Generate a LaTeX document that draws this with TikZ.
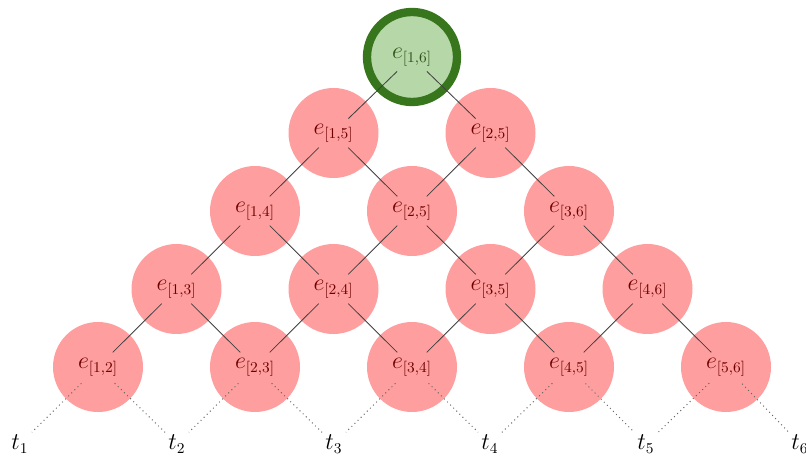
\documentclass[tikz,border=0pt]{standalone}
\definecolor{pinkfill}{HTML}{FF9E9E}
\definecolor{pinktext}{HTML}{6E0000}
\definecolor{greenfill}{HTML}{B6D7A8}
\definecolor{greenring}{HTML}{38761D}
\definecolor{greentext}{HTML}{2E5418}
\begin{document}
\begin{tikzpicture}[x=0.6pt,y=-0.6pt,
  redcirc/.style={circle,fill=pinkfill,draw=none,minimum size=54pt,inner sep=0pt,text=pinktext,font=\fontsize{13.5}{15}\selectfont},
  greencirc/.style={circle,fill=greenfill,draw=greenring,line width=5pt,minimum size=54pt,inner sep=0pt,text=greentext,font=\fontsize{13.5}{15}\selectfont},
  tlab/.style={inner sep=1pt,font=\fontsize{13.5}{15}\selectfont},
  edge/.style={draw=black!75,line width=0.5pt,shorten <=12.5pt,shorten >=12.5pt},
  dots/.style={draw=black!60,line width=0.6pt,dotted,shorten <=14pt,shorten >=10pt}]
\useasboundingbox (0,0) rectangle (806,459);
% level 1
\node[redcirc] (e12) at (98,367) {$e_{[1,2]}$};
\node[redcirc] (e23) at (255,367) {$e_{[2,3]}$};
\node[redcirc] (e34) at (412,367) {$e_{[3,4]}$};
\node[redcirc] (e45) at (569,367) {$e_{[4,5]}$};
\node[redcirc] (e56) at (726,367) {$e_{[5,6]}$};
% level 2
\node[redcirc] (e13) at (176.5,289) {$e_{[1,3]}$};
\node[redcirc] (e24) at (333.5,289) {$e_{[2,4]}$};
\node[redcirc] (e35) at (490.5,289) {$e_{[3,5]}$};
\node[redcirc] (e46) at (647.5,289) {$e_{[4,6]}$};
% level 3
\node[redcirc] (e14) at (255,211) {$e_{[1,4]}$};
\node[redcirc] (e25b) at (412,211) {$e_{[2,5]}$};
\node[redcirc] (e36) at (569,211) {$e_{[3,6]}$};
% level 4
\node[redcirc] (e15) at (333.5,133) {$e_{[1,5]}$};
\node[redcirc] (e25) at (490.5,133) {$e_{[2,5]}$};
% top
\node[greencirc] (e16) at (412,57) {$e_{[1,6]}$};
% leaves
\node[tlab] (t1) at (20,444) {$t_1$};
\node[tlab] (t2) at (177,444) {$t_2$};
\node[tlab] (t3) at (334,444) {$t_3$};
\node[tlab] (t4) at (490,444) {$t_4$};
\node[tlab] (t5) at (646,444) {$t_5$};
\node[tlab] (t6) at (800,444) {$t_6$};
% edges
\foreach \a/\b in {e12/e13,e23/e13,e23/e24,e34/e24,e34/e35,e45/e35,e45/e46,e56/e46,
  e13/e14,e24/e14,e24/e25b,e35/e25b,e35/e36,e46/e36,
  e14/e15,e25b/e15,e25b/e25,e36/e25,e15/e16,e25/e16}
  \draw[edge] (\a.center) -- (\b.center);
\foreach \a/\b in {e12/t1,e12/t2,e23/t2,e23/t3,e34/t3,e34/t4,e45/t4,e45/t5,e56/t5,e56/t6}
  \draw[dots] (\a.center) -- (\b.center);
\end{tikzpicture}
\end{document}
